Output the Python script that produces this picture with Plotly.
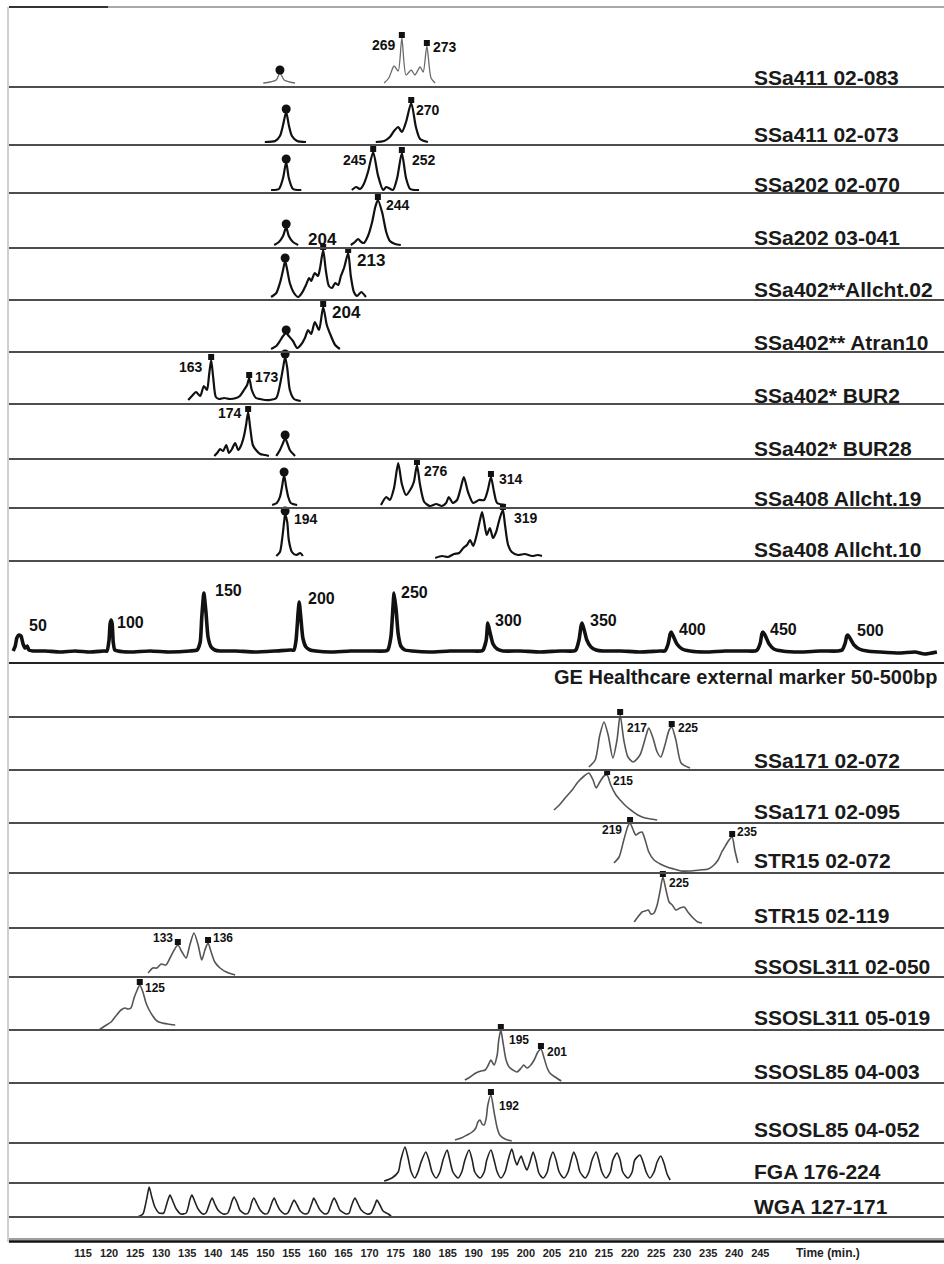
import numpy as np
import plotly.graph_objects as go

# ---------------------------------------------------------------------------
# Electropherogram runs: time (min) and detector signal (trace units).
# None separates disconnected pieces of the same run.
# ---------------------------------------------------------------------------
ssa411_083_t = [149.6, 150.9, 152.1, 152.8, 153.6, 154.7, 155.7, None,
                172.8, 173.7, 174.7, 175.5, 176.2, 177.0, 178.0, 178.7, 179.7, 180.3, 181.0, 181.8, 182.6]
ssa411_083_s = [0, 1, 3, 10, 3, 1, 0, None,
                0, 5, 17, 12, 45, 8, 13, 8, 16, 11, 37, 5, 0]

ssa411_073_t = [149.9, 151.9, 152.8, 153.4, 154.0, 154.5, 155.1, 156.1, 157.8, None,
                171.2, 172.8, 173.9, 174.7, 175.5, 176.2, 177.0, 178.0, 178.9, 179.7, 181.2]
ssa411_073_s = [0, 1, 6, 17, 30, 17, 6, 1, 0, None,
                0, 1, 5, 11, 15, 10, 20, 39, 15, 3, 0]

ssa202_070_t = [151.1, 152.6, 153.4, 154.0, 154.5, 155.3, 156.9, None,
                166.6, 167.4, 168.2, 168.9, 169.7, 170.7, 171.6, 172.6, 173.2, 173.7, 174.5, 175.3,
                176.2, 177.0, 177.8, 179.5]
ssa202_070_s = [0, 1, 12, 28, 12, 1, 0, None,
                0, 3, 1, 6, 18, 38, 15, 0, 3, 2, 0, 12, 37, 12, 1, 0]

ssa202_041_t = [151.7, 152.6, 153.4, 154.0, 154.5, 155.3, 156.3, None,
                166.4, 167.2, 167.8, 168.4, 168.9, 169.7, 170.5, 171.1, 171.6, 172.4, 173.2, 173.9,
                174.9, 176.0]
ssa202_041_s = [0, 3, 9, 18, 9, 3, 0, None,
                0, 3, 6, 3, 2, 9, 23, 38, 45, 33, 13, 4, 1, 0]

ssa402_all02_t = [151.1, 152.1, 152.8, 153.4, 153.8, 154.2, 154.7, 155.5, 156.3, 157.0, 157.8,
                  158.4, 158.8, 159.2, 159.5, 160.1, 160.5, 161.1, 161.6, 162.2, 162.8, 163.4,
                  164.0, 164.5, 165.1, 165.9, 166.4, 167.0, 167.6, 168.4, 169.3]
ssa402_all02_s = [0, 4, 14, 27, 36, 27, 14, 4, 0, 4, 12, 19, 16, 21, 24, 21, 29, 47, 27, 11, 9, 14,
                  12, 21, 29, 44, 21, 5, 1, 5, 0]

ssa402_atran10_t = [151.1, 152.1, 152.8, 153.4, 154.0, 154.5, 155.3, 156.1, 156.8, 157.6, 158.2,
                    158.8, 159.5, 160.3, 161.1, 161.8, 162.6, 163.4, 164.3]
ssa402_atran10_s = [0, 3, 8, 13, 16, 13, 8, 1, 4, 11, 19, 15, 27, 19, 42, 24, 13, 4, 0]

ssa402_bur2_t = [135.2, 135.9, 136.7, 137.5, 138.2, 138.8, 139.2, 139.6, 140.0, 140.5, 141.1, 142.1,
                 143.2, 144.4, 145.1, 145.9, 146.5, 146.9, 147.4, 148.2, 149.0, 149.9, 150.9, 152.1,
                 152.8, 153.4, 153.8, 154.2, 154.7, 155.5, 156.8]
ssa402_bur2_s = [1, 5, 9, 5, 15, 11, 26, 41, 23, 4, 2, 3, 2, 3, 5, 11, 16, 23, 11, 3, 2, 1, 1, 3,
                 16, 33, 44, 33, 11, 2, 0]

ssa402_bur28_t = [140.2, 140.9, 141.3, 141.9, 142.5, 143.0, 143.6, 144.2, 144.8, 145.3, 145.9, 146.3,
                  146.7, 147.1, 147.6, 148.2, 149.0, 149.9, 150.7, None,
                  152.1, 152.8, 153.4, 153.8, 154.2, 154.7, 155.7]
ssa402_bur28_s = [0, 4, 7, 5, 11, 3, 7, 13, 6, 10, 20, 31, 44, 28, 11, 6, 2, 1, 0, None,
                  0, 6, 13, 18, 13, 6, 0]

ssa408_all19_t = [151.3, 152.2, 152.8, 153.2, 153.6, 154.0, 154.4, 154.9, 156.1, None,
                  172.2, 173.2, 173.9, 174.7, 175.5, 176.2, 177.0, 177.8, 178.5, 179.1, 179.7, 180.5,
                  181.6, 182.8, 183.9, 184.7, 185.2, 186.0, 186.8, 187.5, 188.1, 188.9, 189.9, 191.0,
                  192.0, 192.7, 193.3, 193.9, 194.5, 196.2]
ssa408_all19_s = [0, 2, 8, 18, 30, 18, 8, 2, 0, None,
                  0, 8, 5, 17, 42, 21, 10, 15, 23, 40, 20, 3, -1, 1, -1, 2, 8, 2, 5, 17, 28, 13, 2,
                  5, 5, 15, 28, 13, 2, 0]

ssa408_all10_t = [152.1, 152.8, 153.2, 153.6, 153.8, 154.2, 154.5, 155.1, 155.9, 156.7, 157.2, None,
                  182.6, 183.9, 185.1, 186.2, 187.2, 188.0, 188.7, 189.3, 189.9, 190.6, 191.2, 191.6,
                  192.0, 192.5, 193.1, 193.7, 194.3, 194.8, 195.2, 195.6, 196.0, 196.6, 197.3, 198.5,
                  199.8, 201.2, 202.3, 203.1]
ssa408_all10_s = [0, 4, 16, 34, 42, 34, 16, 4, 1, 3, 0, None,
                  -2, 0, -1, 2, 3, 8, 11, 16, 10, 22, 36, 44, 34, 21, 28, 18, 24, 34, 41, 46, 31, 11,
                  4, 1, 2, 0, 1, 0]

# GE Healthcare external size marker, 50-500 bp
ladder_t = [101.6, 102.0, 102.3, 102.7, 103.1, 103.5, 103.9, 104.3, 104.6, 105.4,
            107.7, 110.6, 113.5, 116.3, 119.0,
            119.6, 120.0, 120.2, 120.4, 120.6, 120.8, 121.1, 121.7,
            124.0, 127.9, 131.7, 135.5,
            136.9, 137.5, 137.8, 138.2, 138.6, 139.0, 139.6, 140.3, 141.3,
            144.2, 148.0, 151.9, 154.7,
            155.5, 155.9, 156.3, 156.5, 156.8, 157.2, 157.8, 158.6, 159.7,
            162.4, 166.3, 170.1, 173.0,
            173.5, 174.1, 174.5, 174.7, 175.1, 175.5, 176.0, 176.8, 178.2,
            181.6, 185.4, 189.3, 191.4,
            191.8, 192.4, 192.7, 193.1, 193.7, 194.5, 195.6,
            198.9, 202.7, 206.6, 209.2,
            209.6, 210.2, 210.6, 210.8, 211.2, 211.7, 212.5, 213.5, 214.8,
            218.1, 221.9, 225.8,
            226.7, 227.3, 227.7, 227.9, 228.2, 229.0, 230.0, 231.5,
            234.4, 238.2, 242.1, 244.0,
            244.4, 245.0, 245.3, 245.5, 245.9, 246.7, 247.6, 249.2,
            252.6, 256.5, 259.9,
            260.7, 261.3, 261.6, 261.8, 262.2, 263.0, 264.0, 265.5,
            268.0, 271.8, 274.7, 276.6, 278.9]
ladder_s = [1, 6, 14, 17, 16, 8, 4, 6, 2, 1,
            1, 0, 1, 0, 1,
            1, 12, 28, 32, 28, 10, 2, 1,
            0, 1, 0, 1,
            2, 10, 35, 59, 40, 15, 5, 2, 1,
            1, 0, 1, 2,
            2, 12, 40, 50, 35, 14, 5, 2, 1,
            0, 1, 1, 1,
            2, 15, 45, 59, 42, 18, 6, 2, 1,
            0, 1, 1, 1,
            2, 12, 29, 20, 8, 3, 1,
            1, 0, 1, 1,
            2, 12, 26, 29, 22, 12, 5, 2, 1,
            1, 0, 1,
            1, 8, 18, 20, 17, 8, 3, 1,
            0, 1, 1, 1,
            2, 9, 18, 20, 17, 8, 3, 1,
            0, 1, 1,
            2, 9, 16, 17, 14, 7, 3, 1,
            0, -1, 0, -2, 0]
ladder_sizes = [50, 100, 150, 200, 250, 300, 350, 400, 450, 500]
ladder_peak_t = [102.7, 120.4, 138.2, 156.5, 174.7, 192.7, 210.8, 227.9, 245.5, 261.8]

ssa171_072_t = [212.1, 213.3, 214.2, 215.0, 215.8, 216.7, 217.5, 218.1, 218.8, 219.6, 220.6, 221.9,
                223.1, 223.6, 224.4, 225.2, 225.9, 226.7, 227.5, 228.0, 228.8, 229.8, 231.5]
ssa171_072_s = [0, 7, 32, 45, 32, 9, 27, 52, 27, 10, 5, 12, 32, 39, 29, 15, 10, 22, 37, 40, 27, 4, -1]

ssa171_095_t = [205.4, 206.6, 207.7, 208.9, 210.0, 211.2, 212.1, 212.9, 213.5, 214.2, 215.0, 215.6,
                216.3, 217.3, 218.1, 219.2, 220.4, 221.5, 222.9, 224.0, 225.2]
ssa171_095_s = [10, 16, 23, 30, 38, 44, 47, 40, 32, 38, 44, 45, 35, 25, 20, 14, 9, 5, 2, 1, 0]

str15_072_t = [216.9, 217.9, 218.8, 219.6, 220.0, 220.6, 221.1, 221.7, 222.3, 222.9, 223.6, 224.6,
               225.8, 227.1, 228.4, 229.8, 231.5, 233.4, 235.0, 235.9, 236.9, 237.6, 238.4, 239.0,
               239.6, 240.1, 240.7]
str15_072_s = [7, 13, 30, 44, 47, 40, 35, 37, 38, 30, 18, 10, 6, 3, 1, -1, -1, 0, 1, 4, 10, 18, 25,
               30, 33, 20, 7]

str15_119_t = [220.8, 221.5, 222.3, 222.9, 223.5, 224.0, 224.6, 225.2, 225.8, 226.3, 226.9, 227.5,
               228.1, 228.8, 229.6, 230.4, 231.1, 232.1, 233.0, 233.8]
str15_119_s = [1, 6, 11, 12, 13, 9, 10, 18, 33, 46, 33, 21, 18, 13, 15, 16, 11, 5, 1, 0]

ssosl311_050_t = [127.5, 128.4, 129.2, 130.0, 130.9, 131.7, 132.5, 133.2, 134.0, 134.8, 135.5, 136.3,
                  137.1, 137.8, 138.4, 139.0, 139.6, 140.3, 141.3, 142.5, 144.2]
ssosl311_050_s = [1, 6, 6, 10, 9, 16, 24, 29, 22, 16, 29, 41, 29, 14, 24, 31, 22, 12, 6, 2, -1]

ssosl311_019_t = [118.1, 119.2, 120.4, 121.3, 122.3, 123.1, 123.6, 124.2, 124.8, 125.4, 125.9, 126.5,
                  127.1, 127.7, 128.4, 129.2, 130.2, 131.3, 132.7]
ssosl311_019_s = [-3, 1, 5, 11, 17, 19, 18, 19, 29, 37, 42, 35, 24, 17, 11, 6, 4, 3, 2]

ssosl85_003_t = [188.3, 189.3, 190.4, 191.4, 192.2, 192.7, 193.3, 193.9, 194.5, 194.8, 195.2, 195.6,
                 196.2, 196.8, 197.5, 198.3, 199.1, 199.6, 200.2, 200.8, 201.6, 202.3, 202.9, 203.5,
                 204.1, 204.6, 205.6, 206.8]
ssosl85_003_s = [0, 3, 7, 9, 10, 14, 20, 15, 25, 40, 50, 38, 20, 13, 10, 8, 12, 15, 12, 14, 20, 28,
                 31, 22, 12, 7, 3, -1]

ssosl85_052_t = [186.4, 187.6, 188.7, 189.7, 190.4, 190.8, 191.2, 191.6, 192.0, 192.4, 192.7, 193.3,
                 193.9, 194.5, 195.0, 196.0, 197.3]
ssosl85_052_s = [0, 2, 5, 8, 12, 18, 20, 16, 15, 22, 35, 45, 28, 12, 5, 1, -1]

fga_t = [172.8, 174.3, 175.5, 176.0, 176.8, 177.4, 178.0, 178.7, 179.3, 179.9,
         180.8, 181.4, 182.0, 182.8, 183.5, 184.1, 184.9, 185.4, 186.0, 187.0,
         187.7, 188.3, 189.1, 189.7, 190.2, 191.2, 192.0, 192.5, 193.3, 193.9,
         194.5, 195.2, 196.0, 196.6, 197.3, 197.9, 198.3, 198.7, 199.1, 199.6,
         200.2, 200.8, 201.4, 202.0, 202.5, 203.3, 204.1, 204.6, 205.2, 205.8,
         206.4, 207.3, 208.1, 208.7, 209.2, 209.8, 210.4, 211.4, 212.1, 212.7,
         213.5, 214.0, 214.6, 215.4, 216.2, 216.7, 217.5, 218.1, 218.6, 219.6,
         220.4, 220.9, 221.9, 222.5, 223.1, 223.8, 224.6, 225.2, 225.9, 226.5,
         227.1, 227.7]
fga_s = [-1, 2, 8, 20, 33, 22, 8, 2, 8, 18,
         28, 20, 8, 2, 8, 20, 30, 20, 8, 2,
         8, 20, 30, 20, 8, 2, 8, 20, 30, 20,
         8, 2, 8, 20, 31, 20, 15, 20, 24, 17,
         10, 18, 28, 18, 7, 2, 8, 20, 28, 20,
         8, 2, 8, 20, 28, 20, 8, 2, 8, 20,
         28, 20, 8, 2, 8, 20, 27, 20, 8, 2,
         8, 20, 25, 18, 8, 2, 8, 18, 24, 17,
         6, 0]

wga_t = [125.4, 126.5, 126.9, 127.3, 127.7, 128.2, 128.8, 129.6,
         130.5, 130.9, 131.3, 131.7, 132.3, 132.9, 133.8,
         134.8, 135.2, 135.5, 135.9, 136.5, 137.1, 138.0,
         138.6, 139.0, 139.4, 139.8, 140.3, 140.9, 141.9,
         142.8, 143.2, 143.6, 144.0, 144.6, 145.1, 146.1,
         146.7, 147.1, 147.4, 147.8, 148.4, 149.0, 149.9,
         150.5, 150.9, 151.3, 151.7, 152.2, 152.8, 153.8,
         154.3, 154.7, 155.1, 155.5, 156.1, 156.7, 157.6,
         158.2, 158.6, 159.0, 159.3, 159.9, 160.5, 161.5,
         162.0, 162.4, 162.8, 163.2, 163.8, 164.3, 165.5,
         166.1, 166.4, 166.8, 167.2, 167.8, 168.4, 169.5,
         170.3, 170.7, 171.1, 171.4, 172.0, 172.6, 173.6,
         174.3]
wga_s = [-2, 1, 8, 18, 28, 18, 8, 2,
         2, 8, 15, 20, 13, 6, 1,
         2, 8, 15, 20, 13, 6, 1,
         2, 7, 13, 17, 11, 5, 1,
         2, 7, 14, 18, 12, 5, 1,
         2, 7, 13, 17, 11, 5, 1,
         2, 7, 13, 17, 11, 5, 1,
         2, 6, 11, 15, 10, 4, 1,
         2, 7, 13, 17, 11, 5, 1,
         2, 7, 13, 17, 11, 5, 1,
         2, 7, 13, 17, 11, 5, 1,
         2, 6, 11, 15, 10, 4, 1,
         -2]

# time axis tick labels
time_ticks = list(range(115, 250, 5))

# ---------------------------------------------------------------------------
# Layout of the stacked lanes (screen rows, px from the top of the page)
# ---------------------------------------------------------------------------
FIG_W, FIG_H = 944, 1264
AXIS_ROW = 1242
X_RANGE = [99.07, 280.26]
FONT = "Liberation Sans, Arial, Helvetica, sans-serif"
BLACK = "#111111"
GREY = "#555555"

# (label, label row, t, s, baseline row, colour, width, markers, peak labels)
# markers: (time, symbol); peak labels: (time, text, side, xshift, dy, size)
lanes = [
    ("SSa411 02-083", 77, ssa411_083_t, ssa411_083_s, 83, "#6a6a6a", 1.3,
     [(152.8, "circle"), (176.2, "square"), (181.0, "square")],
     [(176.2, "269", "L", -4, 7, 14), (181.0, "273", "R", 4, 1, 14)]),
    ("SSa411 02-073", 134, ssa411_073_t, ssa411_073_s, 142, BLACK, 2.2,
     [(154.0, "circle"), (178.0, "square")],
     [(178.0, "270", "R", 3, 7, 14)]),
    ("SSa202 02-070", 184, ssa202_070_t, ssa202_070_s, 190, BLACK, 2.2,
     [(154.0, "circle"), (170.7, "square"), (176.2, "square")],
     [(170.7, "245", "L", -4, 8, 14), (176.2, "252", "R", 8, 7, 14)]),
    ("SSa202 03-041", 238, ssa202_041_t, ssa202_041_s, 245, BLACK, 2.2,
     [(154.0, "circle"), (171.6, "square")],
     [(171.6, "244", "R", 6, 5, 14)]),
    ("SSa402**Allcht.02", 289, ssa402_all02_t, ssa402_all02_s, 297, BLACK, 2.2,
     [(153.8, "circle"), (161.1, "square"), (165.9, "square")],
     [(161.1, "204", "C", -1, -11, 17), (165.9, "213", "R", 7, 7, 17)]),
    ("SSa402** Atran10", 342, ssa402_atran10_t, ssa402_atran10_s, 349, BLACK, 2.2,
     [(154.0, "circle"), (161.1, "square")],
     [(161.1, "204", "R", 7, 5, 17)]),
    ("SSa402* BUR2", 395, ssa402_bur2_t, ssa402_bur2_s, 401, BLACK, 2.2,
     [(139.6, "square"), (146.9, "square"), (153.8, "circle")],
     [(139.6, "163", "L", -6, 7, 14), (146.9, "173", "R", 4, -1, 14)]),
    ("SSa402* BUR28", 448, ssa402_bur28_t, ssa402_bur28_s, 456, BLACK, 2.2,
     [(146.7, "square"), (153.8, "circle")],
     [(146.7, "174", "L", -4, 1, 14)]),
    ("SSa408 Allcht.19", 498, ssa408_all19_t, ssa408_all19_s, 505, BLACK, 2.2,
     [(153.6, "circle"), (179.1, "square"), (193.3, "square")],
     [(179.1, "276", "R", 5, 6, 14), (193.3, "314", "R", 6, 2, 14)]),
    ("SSa408 Allcht.10", 549, ssa408_all10_t, ssa408_all10_s, 556, BLACK, 2.2,
     [(153.8, "circle"), (195.6, "square")],
     [(153.8, "194", "R", 7, 5, 14), (195.6, "319", "R", 9, 8, 14)]),
    ("SSa171 02-072", 761, ssa171_072_t, ssa171_072_s, 767, GREY, 1.6,
     [(218.1, "square"), (228.0, "square")],
     [(218.1, "217", "R", 5, 13, 12), (228.0, "225", "R", 4, 1, 12)]),
    ("SSa171 02-095", 811, ssa171_095_t, ssa171_095_s, 820, GREY, 1.6,
     [(215.6, "square")],
     [(215.6, "215", "R", 4, 6, 12)]),
    ("STR15 02-072", 860, str15_072_t, str15_072_s, 870, GREY, 1.6,
     [(220.0, "square"), (239.6, "square")],
     [(220.0, "219", "L", -6, 7, 12), (239.6, "235", "R", 3, -5, 12)]),
    ("STR15 02-119", 915, str15_119_t, str15_119_s, 923, GREY, 1.6,
     [(226.3, "square")],
     [(226.3, "225", "R", 4, 6, 12)]),
    ("SSOSL311 02-050", 966, ssosl311_050_t, ssosl311_050_s, 974, GREY, 1.6,
     [(133.2, "square"), (139.0, "square")],
     [(133.2, "133", "L", -3, -7, 12), (139.0, "136", "R", 3, -5, 12)]),
    ("SSOSL311 05-019", 1017, ssosl311_019_t, ssosl311_019_s, 1027, GREY, 1.6,
     [(125.9, "square")],
     [(125.9, "125", "R", 3, 3, 12)]),
    ("SSOSL85 04-003", 1071, ssosl85_003_t, ssosl85_003_s, 1080, GREY, 1.6,
     [(195.2, "square"), (202.9, "square")],
     [(195.2, "195", "R", 6, 10, 12), (202.9, "201", "R", 4, 3, 12)]),
    ("SSOSL85 04-052", 1129, ssosl85_052_t, ssosl85_052_s, 1140, GREY, 1.6,
     [(193.3, "square")],
     [(193.3, "192", "R", 6, 11, 12)]),
    ("FGA 176-224", 1171, fga_t, fga_s, 1180, "#222222", 1.6, [], []),
    ("WGA 127-171", 1206, wga_t, wga_s, 1215, "#222222", 1.6, [], []),
]

LADDER_BASE = 652
LADDER_LABEL_ROW = 677
separator_rows = [87, 145, 193, 248, 300, 352, 404, 459, 508, 561, 717, 770, 823, 873,
                  928, 977, 1030, 1083, 1143, 1183, 1217]


def px_x(px):
    return px / FIG_W


def px_y(row):
    return 1 - row / AXIS_ROW


def apex(t, s, tm):
    pts = [(a, b) for a, b in zip(t, s) if a is not None]
    tt = np.array([p[0] for p in pts])
    ss = np.array([p[1] for p in pts])
    return float(np.interp(tm, tt, ss))


fig = go.Figure()
annotations = []


def add_run(t, s, base, color, width, smoothing=0.7):
    assert len(t) == len(s)
    y = [None if v is None else base - v for v in s]
    fig.add_trace(go.Scatter(
        x=t, y=y, mode="lines", connectgaps=False, hoverinfo="skip", showlegend=False,
        line=dict(color=color, width=width, shape="spline", smoothing=smoothing)))


for (name, lrow, t, s, base, color, width, marks, plabels) in lanes:
    add_run(t, s, base, color, width)
    for sym in ("square", "circle"):
        xs = [m[0] for m in marks if m[1] == sym]
        if not xs:
            continue
        ys = [base - apex(t, s, x) - 3 for x in xs]
        fig.add_trace(go.Scatter(
            x=xs, y=ys, mode="markers", hoverinfo="skip", showlegend=False,
            marker=dict(symbol=sym, size=6 if sym == "square" else 9, color=BLACK,
                        line=dict(width=0))))
    for (tm, txt, side, xs_, dy, size) in plabels:
        anchor = {"L": "right", "R": "left", "C": "center"}[side]
        annotations.append(dict(
            x=tm, y=base - apex(t, s, tm) + dy, xref="x", yref="y", text=txt,
            showarrow=False, xanchor=anchor, yanchor="middle", xshift=xs_,
            font=dict(family=FONT, size=size, color=BLACK, weight="bold")))
    annotations.append(dict(
        x=px_x(752), y=px_y(lrow), xref="paper", yref="paper", text=name, showarrow=False,
        xanchor="left", yanchor="middle",
        font=dict(family=FONT, size=21, color="#1a1a1a", weight="bold")))

# size-standard lane
add_run(ladder_t, ladder_s, LADDER_BASE, BLACK, 3.6, smoothing=0.5)
ladder_shift = [(8, -10), (4, 2), (9, -3), (7, -4), (5, -1), (5, -3), (6, -3), (6, -3), (5, -3), (7, -5)]
for size_bp, tm, (xs_, dy) in zip(ladder_sizes, ladder_peak_t, ladder_shift):
    annotations.append(dict(
        x=tm, y=LADDER_BASE - apex(ladder_t, ladder_s, tm) + dy, xref="x", yref="y",
        text=str(size_bp), showarrow=False, xanchor="left", yanchor="middle", xshift=xs_,
        font=dict(family=FONT, size=16, color=BLACK, weight="bold")))
annotations.append(dict(
    x=px_x(940), y=px_y(LADDER_LABEL_ROW), xref="paper", yref="paper",
    text="GE Healthcare external marker 50-500bp", showarrow=False,
    xanchor="right", yanchor="middle",
    font=dict(family=FONT, size=20, color="#1a1a1a", weight="bold")))

annotations.append(dict(
    x=px_x(828), y=px_y(1253), xref="paper", yref="paper", text="Time (min.)",
    showarrow=False, xanchor="center", yanchor="middle",
    font=dict(family=FONT, size=12, color="#222222", weight="bold")))

shapes = []
for r in separator_rows:
    shapes.append(dict(type="line", xref="paper", yref="paper", x0=px_x(9), x1=1,
                       y0=px_y(r), y1=px_y(r), line=dict(color="#4d4d4d", width=2)))
# baseline rule under the size-standard lane
shapes.append(dict(type="line", xref="paper", yref="paper", x0=px_x(9), x1=1,
                   y0=px_y(663), y1=px_y(663), line=dict(color="#222222", width=2)))
# top rule
shapes.append(dict(type="line", xref="paper", yref="paper", x0=px_x(9), x1=1,
                   y0=px_y(7), y1=px_y(7), line=dict(color="#a8a8a8", width=2)))
shapes.append(dict(type="line", xref="paper", yref="paper", x0=px_x(9), x1=px_x(108),
                   y0=px_y(7), y1=px_y(7), line=dict(color="#333333", width=2)))
# left frame
shapes.append(dict(type="line", xref="paper", yref="paper", x0=px_x(8), x1=px_x(8),
                   y0=px_y(7), y1=px_y(AXIS_ROW), line=dict(color="#a0a0a0", width=1)))
# double rule of the time axis
shapes.append(dict(type="line", xref="paper", yref="paper", x0=px_x(9), x1=1,
                   y0=px_y(AXIS_ROW - 3), y1=px_y(AXIS_ROW - 3), line=dict(color="#808080", width=1.5)))
shapes.append(dict(type="line", xref="paper", yref="paper", x0=px_x(9), x1=1,
                   y0=px_y(AXIS_ROW - 0.5), y1=px_y(AXIS_ROW - 0.5), line=dict(color="#111111", width=2.5)))

fig.update_layout(
    width=FIG_W, height=FIG_H,
    margin=dict(l=0, r=0, t=0, b=FIG_H - AXIS_ROW),
    paper_bgcolor="white", plot_bgcolor="white",
    showlegend=False,
    annotations=annotations,
    shapes=shapes,
    xaxis=dict(range=X_RANGE, showgrid=False, zeroline=False, showline=False, ticks="",
               tickvals=time_ticks, ticktext=[str(v) for v in time_ticks],
               tickfont=dict(family=FONT, size=11, color="#222222", weight="bold"),
               ticklabelstandoff=3, fixedrange=True),
    yaxis=dict(range=[AXIS_ROW, 0], showgrid=False, zeroline=False, showline=False,
               showticklabels=False, ticks="", fixedrange=True),
)

fig.write_html("out.html")
